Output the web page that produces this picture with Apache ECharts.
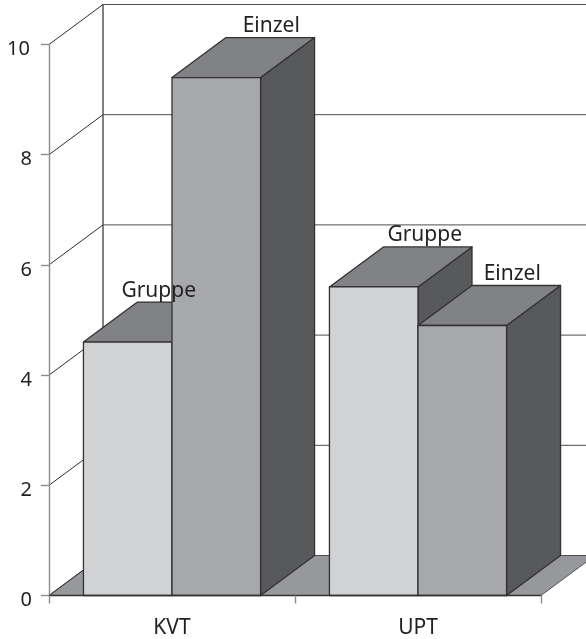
<!DOCTYPE html>
<html>
<head>
<meta charset="utf-8">
<style>html,body{margin:0;padding:0;background:#fff}#chart{width:586px;height:639px}</style>
<script src="https://cdn.jsdelivr.net/npm/echarts@6/dist/echarts.min.js"></script>
</head>
<body>
<div id="chart"></div>
<script>
// Werte je Therapieform
const categories = ['KVT', 'UPT'];
const gruppeValues = [4.6, 5.6];
const einzelValues = [9.4, 4.9];
const seriesNames = ['Gruppe', 'Einzel'];
const yTicks = [0, 2, 4, 6, 8, 10];

// Perspektive und Farben
const DX = 54, DY = -40, BAR_RATIO = 0.36;
const EDGE = '#333132', INK = '#231f20', AXIS = '#8a8b8d';
const FONT = '"Noto Sans", sans-serif';
const gruppeLook = { front: '#d1d2d4' };
const einzelLook = { front: '#a7a8ab' };
const TOP = '#808285', SIDE = '#58595b', FLOOR = '#97989b';

const edge = { stroke: EDGE, lineWidth: 1.3, lineJoin: 'round' };
const poly = (points, fill) => ({
  type: 'polygon', shape: { points }, style: Object.assign({ fill }, edge)
});
const line = (x1, y1, x2, y2, stroke, lineWidth) => ({
  type: 'line', shape: { x1, y1, x2, y2 }, style: { stroke, lineWidth }
});

// Boden, Rückwand und Gitterlinien
function renderWalls(params, api) {
  const v = api.value(0);
  const cs = params.coordSys;
  const y = api.coord([0, v])[1];
  const x0 = cs.x, x1 = cs.x + cs.width;
  const children = [line(x0, y, x0 + DX, y + DY, '#2f2d2e', 1)];
  if (v === 0) {
    children.unshift({
      type: 'polygon',
      shape: { points: [[x0, y], [x0 + DX, y + DY], [x1 + DX, y + DY], [x1, y]] },
      style: { fill: FLOOR, stroke: '#55565a', lineWidth: 1 }
    });
    children.push(line(x0 + DX, y + DY, x0 + DX, cs.y + DY, '#4a4a4c', 1.4));
  }
  children.push(line(x0 + DX, y + DY, x1 + DX, y + DY, '#4d4d4f', 1));
  return { type: 'group', children };
}

// Quader: Offset 0 = links in der Gruppe, 1 = rechts
function cuboid(slot, look) {
  return function (params, api) {
    const c = api.coord([api.value(0), api.value(1)]);
    const base = api.coord([api.value(0), 0])[1];
    const w = api.size([1, 0])[0] * BAR_RATIO;
    const l = c[0] - w + slot * w, r = l + w, t = c[1];
    return {
      type: 'group',
      children: [
        poly([[r, t], [r + DX, t + DY], [r + DX, base + DY], [r, base]], SIDE),
        poly([[l, t], [l + DX, t + DY], [r + DX, t + DY], [r, t]], TOP),
        poly([[l, t], [r, t], [r, base], [l, base]], look.front)
      ]
    };
  };
}

// Beschriftung über den Quadern
const labelShift = { Gruppe: [4, 24], Einzel: [28, 23] };
function labeler(slot, name) {
  return function (params, api) {
    const i = api.value(0);
    const c = api.coord([i, api.value(1)]);
    const w = api.size([1, 0])[0] * BAR_RATIO;
    const l = c[0] - w + slot * w;
    return {
      type: 'text',
      style: {
        x: l + w / 2 + DX / 2 + labelShift[name][i],
        y: c[1] + DY - 1,
        text: name,
        fill: INK,
        font: '21px ' + FONT,
        align: 'center',
        verticalAlign: 'bottom'
      }
    };
  };
}

const asPairs = (values) => values.map((v, i) => [i, v]);

const chart = echarts.init(document.getElementById('chart'), null, { renderer: 'canvas' });
chart.setOption({
  animation: false,
  backgroundColor: '#fff',
  grid: { left: 49, right: 45, top: 44.5, bottom: 43.5 },
  xAxis: {
    type: 'category',
    data: categories,
    z: 6,
    axisLine: { lineStyle: { color: EDGE, width: 1.4 } },
    axisTick: { show: true, length: 8, lineStyle: { color: AXIS, width: 1.4 } },
    axisLabel: { color: INK, fontFamily: FONT, fontSize: 21, margin: 22 }
  },
  yAxis: {
    type: 'value',
    min: 0,
    max: 10,
    interval: 2,
    z: 6,
    splitLine: { show: false },
    axisLine: { show: true, lineStyle: { color: AXIS, width: 1.4 } },
    axisTick: { show: true, length: 8, lineStyle: { color: AXIS, width: 1.4 } },
    axisLabel: {
      color: INK,
      fontFamily: FONT,
      fontSize: 20,
      margin: 17,
      padding: [10, 0, 0, 0],
      formatter: (v) => (v === 10 ? '{wide|10}' : String(v)),
      rich: { wide: { fontFamily: FONT, fontSize: 20, color: INK, padding: [0, 2, 0, 0] } }
    }
  },
  series: [
    { type: 'custom', z: 1, silent: true, data: yTicks.map((v) => [v]), encode: { y: 0 }, renderItem: renderWalls, clip: false },
    { type: 'custom', z: 2, name: seriesNames[0], data: asPairs(gruppeValues), encode: { x: 0, y: 1 }, renderItem: cuboid(0, gruppeLook) },
    { type: 'custom', z: 3, name: seriesNames[1], data: asPairs(einzelValues), encode: { x: 0, y: 1 }, renderItem: cuboid(1, einzelLook) },
    { type: 'custom', z: 8, data: asPairs(gruppeValues), encode: { x: 0, y: 1 }, renderItem: labeler(0, seriesNames[0]) },
    { type: 'custom', z: 8, data: asPairs(einzelValues), encode: { x: 0, y: 1 }, renderItem: labeler(1, seriesNames[1]) }
  ]
});
</script>
</body>
</html>
